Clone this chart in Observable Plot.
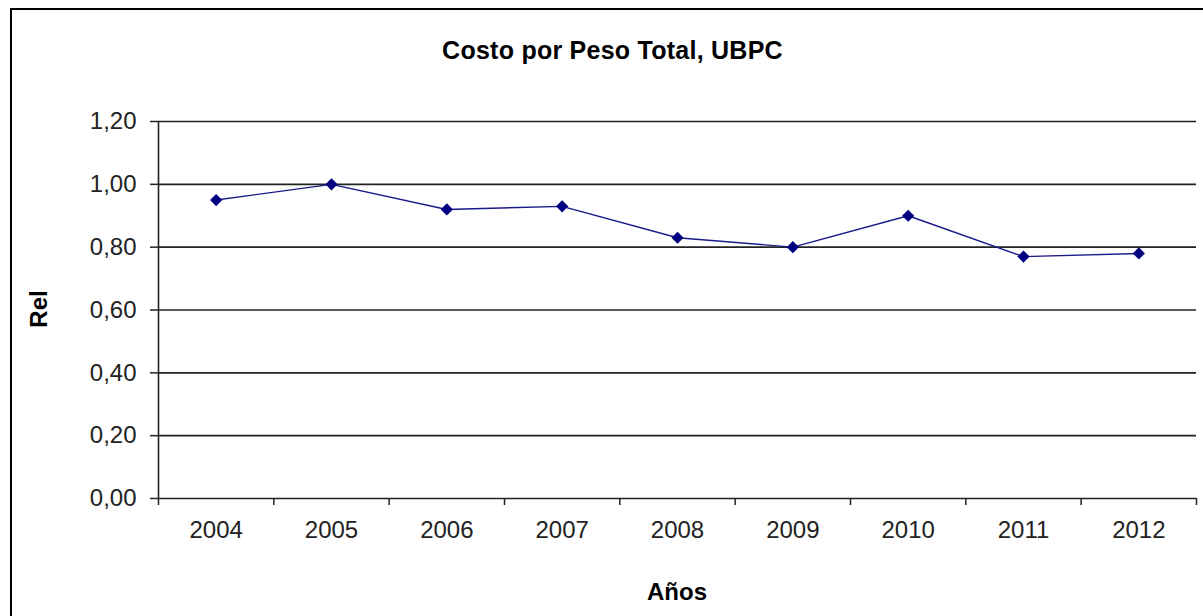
<!DOCTYPE html>
<html>
<head>
<meta charset="utf-8">
<script src="https://cdn.jsdelivr.net/npm/d3@7"></script>
<script src="https://cdn.jsdelivr.net/npm/@observablehq/plot@0.6"></script>
<style>
  html, body { margin: 0; padding: 0; background: #fff; }
  #wrap { position: relative; width: 1203px; height: 616px; overflow: hidden; font-family: "Liberation Sans", Arial, sans-serif; }
  #box { position: absolute; left: 10px; top: 8px; width: 1220px; height: 640px; border: 2px solid #000; box-sizing: border-box; }
  #chart { position: absolute; left: 0; top: 0; }
  .lbl { position: absolute; font-weight: bold; color: #000; white-space: nowrap; }
  #title { left: 0; width: 1225px; top: 36px; text-align: center; font-size: 25px; letter-spacing: 0.25px; }
  #xlab { left: 577px; width: 200px; top: 578px; text-align: center; font-size: 24px; }
  #ylab { left: 39px; top: 309px; font-size: 24px; transform: translate(-50%, -50%) rotate(-90deg); }
</style>
</head>
<body>
<div id="wrap">
  <div id="box"></div>
  <div id="chart"></div>
  <div class="lbl" id="title">Costo por Peso Total, UBPC</div>
  <div class="lbl" id="ylab">Rel</div>
  <div class="lbl" id="xlab">Años</div>
</div>
<script>
const years = [2004, 2005, 2006, 2007, 2008, 2009, 2010, 2011, 2012];
const values = [0.95, 1.00, 0.92, 0.93, 0.83, 0.80, 0.90, 0.77, 0.78];
const yTicks = [0, 0.2, 0.4, 0.6, 0.8, 1.0, 1.2];
const xBounds = [2003.5, 2004.5, 2005.5, 2006.5, 2007.5, 2008.5, 2009.5, 2010.5, 2011.5, 2012.5];

const data = years.map((year, i) => ({year, value: values[i]}));

const chart = Plot.plot({
  width: 1203,
  height: 616,
  marginLeft: 158,
  marginRight: 7,
  marginTop: 121,
  marginBottom: 118,
  style: {fontFamily: '"Liberation Sans", Arial, sans-serif', fontSize: "24px", color: "#222", background: "transparent"},
  x: {type: "linear", domain: [2003.5, 2012.5]},
  y: {domain: [0, 1.2]},
  marks: [
    Plot.gridY(yTicks, {stroke: "#222", strokeOpacity: 1, strokeWidth: 1.6}),
    Plot.ruleX([2003.5], {stroke: "#222", strokeWidth: 1.6}),
    Plot.axisY({ticks: yTicks, tickSize: 8, tickPadding: 14, stroke: "#222", strokeWidth: 1.5,
      tickFormat: d => d.toFixed(2).replace(".", ","), label: null, fill: "#222"}),
    Plot.axisX({ticks: xBounds, tickSize: 7, tickFormat: () => "", stroke: "#222", strokeWidth: 1.5, label: null}),
    Plot.axisX({ticks: years, tickSize: 0, tickPadding: 22, tickFormat: d => String(d), label: null, fill: "#222"}),
    Plot.line(data, {x: "year", y: "value", stroke: "#1a1a8a", strokeWidth: 1.4}),
    Plot.dot(data, {x: "year", y: "value", symbol: "diamond2", r: 5.5, fill: "#000080", stroke: "none"})
  ]
});
document.getElementById("chart").appendChild(chart);
</script>
</body>
</html>
